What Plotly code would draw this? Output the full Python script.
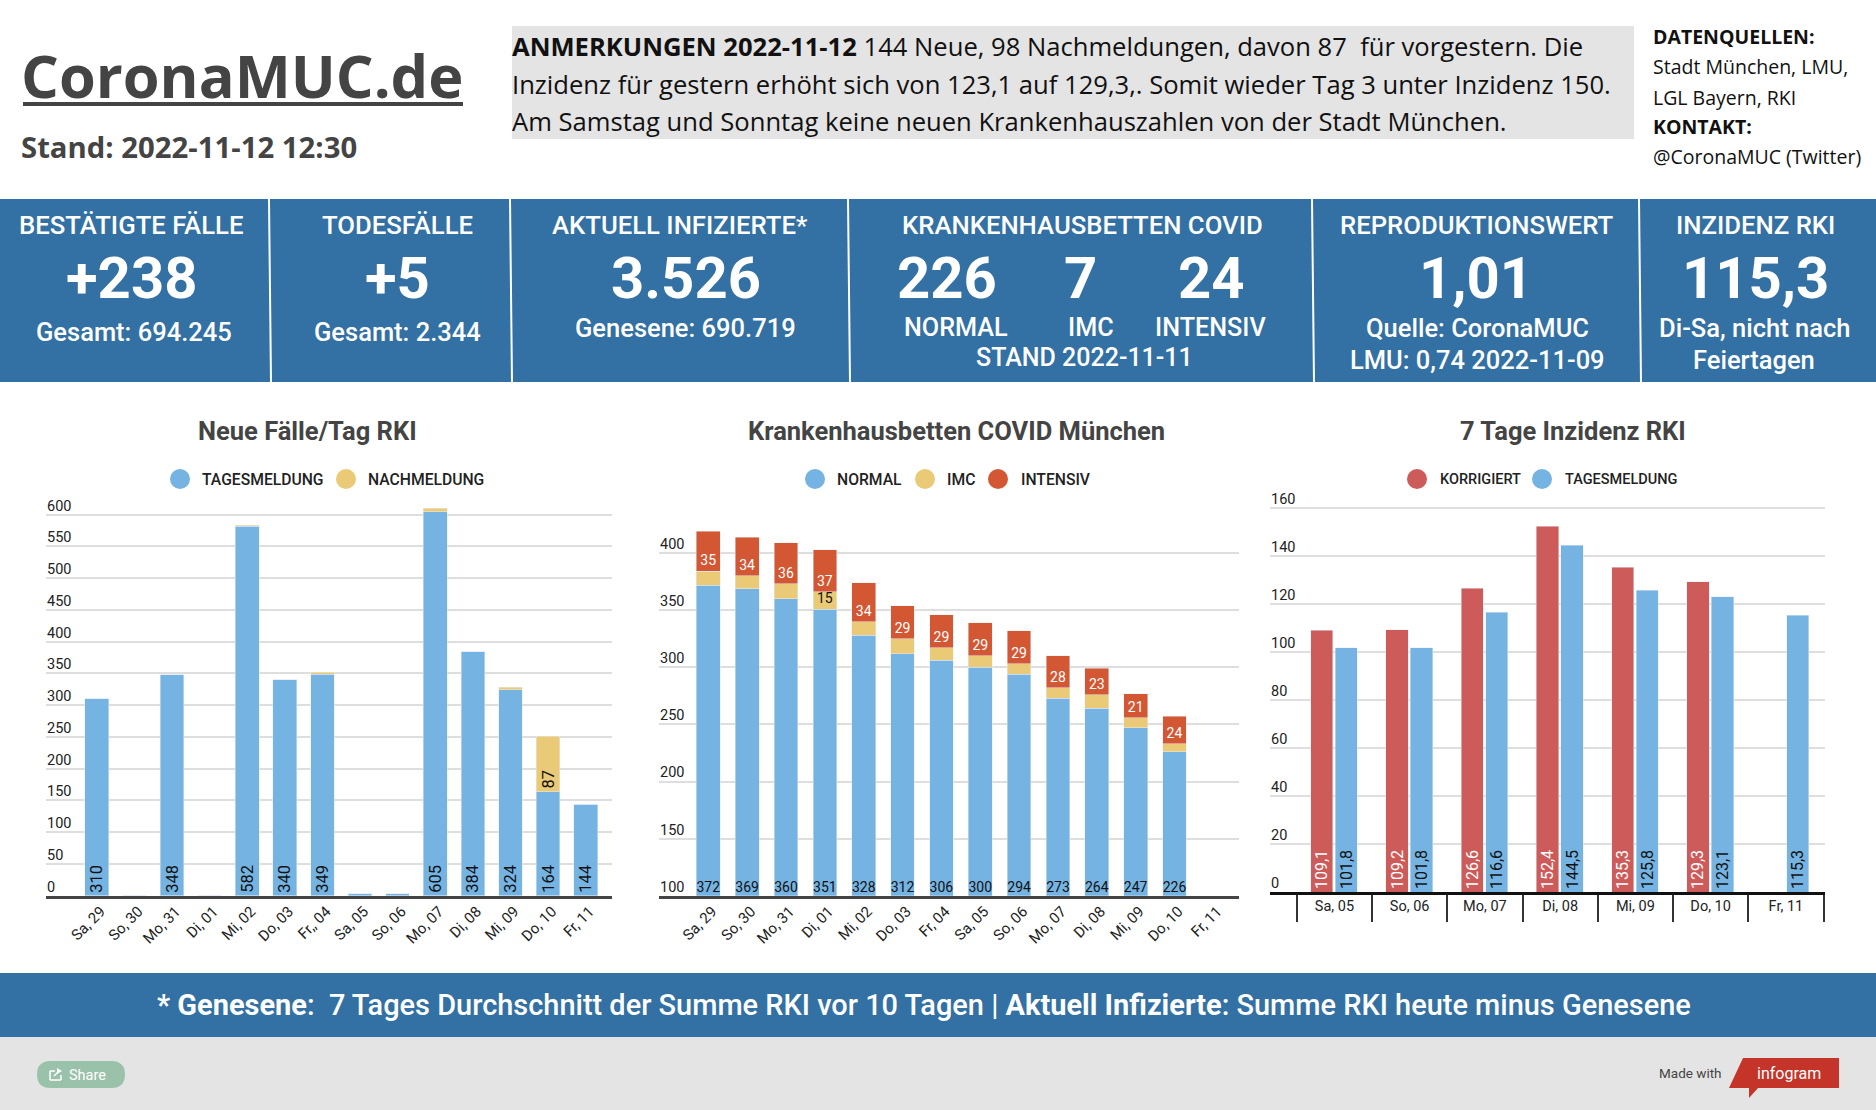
import plotly.graph_objects as go

W = 1876
H = 1110

BLUE = "#74b3e2"
YELLOW = "#eaca76"
ORANGE = "#d45733"
RED = "#cd5b59"
BAND = "#3370a4"
GREY = "#e4e4e4"

# neue Faelle
days_cases = ["Sa, 29", "So, 30", "Mo, 31", "Di, 01", "Mi, 02", "Do, 03", "Fr,, 04",
              "Sa, 05", "So, 06", "Mo, 07", "Di, 08", "Mi, 09", "Do, 10", "Fr, 11"]
tagesmeldung = [310, 0, 348, 0, 582, 340, 349, 3, 3, 605, 384, 324, 164, 144]
nachmeldung = [0, 0, 0, 0, 1, 0, 3, 0, 0, 5, 0, 4, 87, 0]
cases_ticks = [0, 50, 100, 150, 200, 250, 300, 350, 400, 450, 500, 550, 600]

# krankenhaus
days_beds = ["Sa, 29", "So, 30", "Mo, 31", "Di, 01", "Mi, 02", "Do, 03", "Fr, 04",
             "Sa, 05", "So, 06", "Mo, 07", "Di, 08", "Mi, 09", "Do, 10", "Fr, 11"]
normal = [372, 369, 360, 351, 328, 312, 306, 300, 294, 273, 264, 247, 226, None]
imc = [12, 11, 13, 15, 12, 13, 11, 10, 9, 9, 12, 9, 7, None]
intensiv = [35, 34, 36, 37, 34, 29, 29, 29, 29, 28, 23, 21, 24, None]
beds_ticks = [100, 150, 200, 250, 300, 350, 400]

# inzidenz
days_inz = ["Sa, 05", "So, 06", "Mo, 07", "Di, 08", "Mi, 09", "Do, 10", "Fr, 11"]
korrigiert = [109.1, 109.2, 126.6, 152.4, 135.3, 129.3, None]
inz_tages = [101.8, 101.8, 116.6, 144.5, 125.8, 123.1, 115.3]
inz_ticks = [0, 20, 40, 60, 80, 100, 120, 140, 160]


def px_x(x):
    return x / W


def px_y(y):
    return 1 - y / H


def comma(v):
    return "" if v is None else f"{v:.1f}".replace(".", ",")


fig = go.Figure()
shapes = []
notes = []


def rect(x0, y0, x1, y1, color):
    shapes.append(dict(type="rect", xref="paper", yref="paper", layer="below",
                       x0=px_x(x0), x1=px_x(x1), y0=px_y(y0), y1=px_y(y1),
                       fillcolor=color, line_width=0))


def line(x0, y0, x1, y1, color, width, layer="below"):
    shapes.append(dict(type="line", xref="paper", yref="paper", layer=layer,
                       x0=px_x(x0), x1=px_x(x1), y0=px_y(y0), y1=px_y(y1),
                       line=dict(color=color, width=width)))


def text(x, y, s, size, color="#ffffff", family="Roboto", anchor="center", weight=500):
    notes.append(dict(xref="paper", yref="paper", x=px_x(x), y=px_y(y), text=s,
                      showarrow=False, xanchor=anchor, yanchor="middle",
                      borderpad=0, borderwidth=0,
                      font=dict(size=size, color=color, family=family, weight=weight)))


def swatch(x, y, color):
    shapes.append(dict(type="circle", xref="paper", yref="paper",
                       x0=px_x(x - 10), x1=px_x(x + 10), y0=px_y(y + 10), y1=px_y(y - 10),
                       fillcolor=color, line_width=0))


def poly(points, color):
    path = "M " + " L ".join(f"{px_x(x)} {px_y(y)}" for x, y in points) + " Z"
    shapes.append(dict(type="path", xref="paper", yref="paper", path=path,
                       fillcolor=color, line_width=0))


# background bands
rect(512, 26, 1634, 139, GREY)
rect(0, 199, W, 382, BAND)
rect(0, 973, W, 1037, BAND)
rect(0, 1037, W, H, GREY)
for x0, x1 in [(269, 271), (510, 512), (848, 850), (1312, 1314), (1639, 1641)]:
    line(x0, 199, x1, 382, "#ffffff", 2)

# header
OPEN = "Open Sans"
text(21, 75, "<b>CoronaMUC.de</b>", 59.5, "#444444", OPEN, "left", 400)
line(23, 104, 463, 104, "#444444", 4)
text(21, 147, "<b>Stand: 2022-11-12 12:30</b>", 29.3, "#444444", OPEN, "left", 400)
text(512, 46.5, "<b>ANMERKUNGEN 2022-11-12</b> 144 Neue, 98 Nachmeldungen, davon 87  für vorgestern. Die",
     25.6, "#111111", OPEN, "left", 400)
text(512, 84, "Inzidenz für gestern erhöht sich von 123,1 auf 129,3,. Somit wieder Tag 3 unter Inzidenz 150.",
     25.6, "#111111", OPEN, "left", 400)
text(512, 122, "Am Samstag und Sonntag keine neuen Krankenhauszahlen von der Stadt München.",
     25.6, "#111111", OPEN, "left", 400)
text(1653, 36, "<b>DATENQUELLEN:</b>", 19.5, "#111111", OPEN, "left", 400)
text(1653, 66, "Stadt München, LMU,", 19.5, "#111111", OPEN, "left", 400)
text(1653, 97, "LGL Bayern, RKI", 19.5, "#111111", OPEN, "left", 400)
text(1653, 127, "<b>KONTAKT:</b>", 19.5, "#111111", OPEN, "left", 400)
text(1653, 156, "@CoronaMUC (Twitter)", 19.5, "#111111", OPEN, "left", 400)

# kpi band
text(131, 225, "BESTÄTIGTE FÄLLE", 25.7)
text(397, 225, "TODESFÄLLE", 25.7)
text(680, 225, "AKTUELL INFIZIERTE*", 25.7)
text(1082.5, 225, "KRANKENHAUSBETTEN COVID", 25.7)
text(1477, 225, "REPRODUKTIONSWERT", 25.7)
text(1755, 225, "INZIDENZ RKI", 25.7)
for x, s in [(131, "+238"), (397, "+5"), (686, "3.526"), (947, "226"), (1080, "7"),
             (1211, "24"), (1476, "1,01"), (1755, "115,3")]:
    text(x, 278, f"<b>{s}</b>", 58)
text(134, 332, "Gesamt: 694.245", 25.5)
text(397, 332, "Gesamt: 2.344", 25.5)
text(685, 328, "Genesene: 690.719", 25.5)
text(956, 327, "NORMAL", 25.2)
text(1091, 327, "IMC", 25.2)
text(1210, 327, "INTENSIV", 25.2)
text(1084, 357, "STAND 2022-11-11", 25)
text(1477, 328, "Quelle: CoronaMUC", 25.5)
text(1477, 360, "LMU: 0,74 2022-11-09", 25.5)
text(1754, 328, "Di-Sa, nicht nach", 25.5)
text(1754, 360, "Feiertagen", 25.5)

# footer
text(924, 1004.5, "<b>* Genesene</b>:  7 Tages Durchschnitt der Summe RKI vor 10 Tagen | "
                  "<b>Aktuell Infizierte</b>: Summe RKI heute minus Genesene", 28.95)

# share button
shapes.append(dict(type="path", xref="paper", yref="paper",
                   path=f"M {px_x(51)} {px_y(1061)} L {px_x(111)} {px_y(1061)} "
                        f"Q {px_x(125)} {px_y(1061)} {px_x(125)} {px_y(1074.5)} "
                        f"Q {px_x(125)} {px_y(1088)} {px_x(111)} {px_y(1088)} "
                        f"L {px_x(51)} {px_y(1088)} "
                        f"Q {px_x(37)} {px_y(1088)} {px_x(37)} {px_y(1074.5)} "
                        f"Q {px_x(37)} {px_y(1061)} {px_x(51)} {px_y(1061)} Z",
                   fillcolor="#9ac1a9", line_width=0))
line(55, 1071, 50, 1071, "#ffffff", 1.5, "above")
line(50, 1071, 50, 1080, "#ffffff", 1.5, "above")
line(50, 1080, 61, 1080, "#ffffff", 1.5, "above")
line(61, 1080, 61, 1075, "#ffffff", 1.5, "above")
line(54, 1076, 59, 1071, "#ffffff", 1.5, "above")
poly([(57, 1068), (62, 1071), (57, 1074)], "#ffffff")
text(87, 1075, "Share", 14.5, "#ffffff", "Roboto", "center", 400)

# infogram badge
text(1722, 1073, "Made with", 13.5, "#444444", "Roboto", "right", 400)
poly([(1743, 1058), (1839, 1058), (1839, 1088), (1758, 1088), (1749, 1098), (1749, 1088), (1729, 1088)],
     "#c43429")
text(1789, 1073, "infogram", 16, "#ffffff", "Roboto", "center", 400)

# chart titles and legends
text(307, 431, "<b>Neue Fälle/Tag RKI</b>", 25.5, "#444444", "Roboto", "center", 400)
text(956.5, 431, "<b>Krankenhausbetten COVID München</b>", 25.5, "#444444", "Roboto", "center", 400)
text(1573, 431, "<b>7 Tage Inzidenz RKI</b>", 25.5, "#444444", "Roboto", "center", 400)

for x, tx, color, s in [(180, 202, BLUE, "TAGESMELDUNG"), (346, 368, YELLOW, "NACHMELDUNG"),
                        (815, 837, BLUE, "NORMAL"), (925, 947, YELLOW, "IMC"),
                        (998, 1021, ORANGE, "INTENSIV")]:
    swatch(x, 479, color)
    text(tx, 479, s, 15.7, "#222222", "Roboto", "left")
for x, tx, color, s in [(1417, 1440, RED, "KORRIGIERT"), (1542, 1565, BLUE, "TAGESMELDUNG")]:
    swatch(x, 479, color)
    text(tx, 479, s, 14.5, "#222222", "Roboto", "left")

bar_style = dict(textposition="inside", insidetextanchor="start", constraintext="none")

# chart 1
fig.add_trace(go.Bar(x=days_cases, y=tagesmeldung, marker_color=BLUE, width=0.63,
                     text=[str(v) if v > 10 else "" for v in tagesmeldung], textangle=-90,
                     textfont=dict(size=16.5, color="#111111", family="Roboto"),
                     xaxis="x", yaxis="y", **bar_style))
fig.add_trace(go.Bar(x=days_cases, y=nachmeldung, marker_color=YELLOW, width=0.63,
                     text=[str(v) if v > 10 else "" for v in nachmeldung], textangle=-90,
                     textfont=dict(size=16.5, color="#111111", family="Roboto"),
                     xaxis="x", yaxis="y", **bar_style))

# chart 2
fig.add_trace(go.Bar(x=days_beds, y=normal, marker_color=BLUE, width=0.61, textposition="none",
                     xaxis="x2", yaxis="y2"))
fig.add_trace(go.Bar(x=days_beds, y=imc, marker_color=YELLOW, width=0.61,
                     text=[str(v) if v and v >= 15 else "" for v in imc], textangle=0,
                     textfont=dict(size=14, color="#111111", family="Roboto"),
                     xaxis="x2", yaxis="y2", **bar_style))
fig.add_trace(go.Bar(x=days_beds, y=intensiv, marker_color=ORANGE, width=0.61,
                     text=[str(v) if v else "" for v in intensiv], textangle=0,
                     textfont=dict(size=14, color="#ffffff", family="Roboto"),
                     xaxis="x2", yaxis="y2", **bar_style))
# the axis starts at 100, so the labels of the clipped base bars sit on the axis
fig.add_trace(go.Scatter(x=days_beds, y=[beds_ticks[0]] * len(days_beds), mode="text",
                         text=[str(v) if v else "" for v in normal], textposition="top center",
                         textfont=dict(size=14, color="#111111", family="Roboto"),
                         xaxis="x2", yaxis="y2"))

# chart 3
fig.add_trace(go.Bar(x=days_inz, y=korrigiert, marker_color=RED, width=0.294, offset=-0.315,
                     offsetgroup="a", text=[comma(v) for v in korrigiert], textangle=-90,
                     textfont=dict(size=16, color="#ffffff", family="Roboto"),
                     xaxis="x3", yaxis="y3", **bar_style))
fig.add_trace(go.Bar(x=days_inz, y=inz_tages, marker_color=BLUE, width=0.294, offset=0.011,
                     offsetgroup="b", text=[comma(v) for v in inz_tages], textangle=-90,
                     textfont=dict(size=16, color="#111111", family="Roboto"),
                     xaxis="x3", yaxis="y3", **bar_style))

tick_font = dict(size=14.5, color="#222222", family="Roboto")
date_font = dict(size=15, color="#222222", family="Roboto")
x_common = dict(type="category", showgrid=False, showline=True, zeroline=False)
y_common = dict(showgrid=True, gridcolor="#dedede", gridwidth=1.5, zeroline=False, anchor="free",
                ticklabelposition="inside top", ticklabelstandoff=-3, tickfont=tick_font,
                ticks="", tickmode="array", ticklabelshift=1)

fig.update_layout(
    width=W, height=H, margin=dict(l=0, r=0, t=0, b=0, pad=0),
    paper_bgcolor="#ffffff", plot_bgcolor="rgba(0,0,0,0)",
    showlegend=False, barmode="stack",
    shapes=shapes, annotations=notes,
    xaxis=dict(domain=[px_x(46), px_x(612)], range=[-1.351, 13.70], anchor="y", tickangle=-45,
               tickfont=date_font, ticklabelshift=4, ticklabelstandoff=-2,
               linecolor="#444444", linewidth=3, **x_common),
    yaxis=dict(domain=[px_y(895.7), px_y(480)], range=[0, 654.6], position=px_x(46),
               tickvals=cases_ticks, **y_common),
    xaxis2=dict(domain=[px_x(659), px_x(1239)], range=[-1.269, 13.66], anchor="y2", tickangle=-45,
                tickfont=date_font, ticklabelshift=4, ticklabelstandoff=-2,
                linecolor="#444444", linewidth=3, **x_common),
    yaxis2=dict(domain=[px_y(895.7), px_y(520)], range=[100, 429], position=px_x(659),
                tickvals=beds_ticks, **y_common),
    xaxis3=dict(domain=[px_x(1270), px_x(1825)], range=[-0.856, 6.52], anchor="y3", tickangle=0,
                tickfont=tick_font, linecolor="#111111", linewidth=3, ticks="outside", ticklen=27,
                tickwidth=2, tickcolor="#333333", tickson="boundaries", ticklabelstandoff=-1,
                **x_common),
    yaxis3=dict(domain=[px_y(892), px_y(480)], range=[0, 171.7], position=px_x(1270),
                tickvals=inz_ticks, **y_common),
)

fig.write_html("out.html", config={"displayModeBar": False},
               post_script="document.body.style.margin = '0';")
